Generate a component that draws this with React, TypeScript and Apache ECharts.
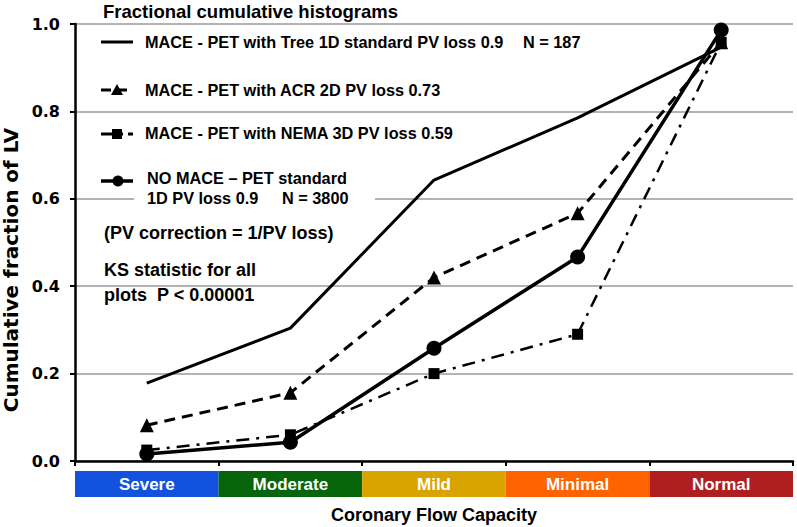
import React, { useEffect, useRef } from "react";
import * as echarts from "echarts";

const categories = ["Severe", "Moderate", "Mild", "Minimal", "Normal"];
const categoryColors = ["#1252dc", "#07650b", "#d9a400", "#ff6300", "#b01f1f"];
const treeSeries = [0.178, 0.304, 0.643, 0.785, 0.947];
const acrSeries = [0.082, 0.156, 0.42, 0.567, 0.958];
const nemaSeries = [0.025, 0.06, 0.2, 0.29, 0.958];
const noMaceSeries = [0.016, 0.043, 0.258, 0.467, 0.986];
const yTicks = [0, 0.2, 0.4, 0.6, 0.8, 1.0];

const FONT = "Liberation Sans, Arial, sans-serif";
const WIDE = "DejaVu Sans, sans-serif";

export default function App() {
  const ref = useRef<HTMLDivElement>(null);
  useEffect(() => {
    if (!ref.current) return;
    const chart = echarts.init(ref.current, null, { renderer: "svg" });
    const txt = (x: number, y: number, s: string, size = 16, extra: any = {}) => ({
      type: "text",
      x,
      y,
      z: 100,
      style: {
        text: s,
        font: `bold ${size}px ${FONT}`,
        fill: "#000",
        textVerticalAlign: "middle",
        ...extra,
      },
    });
    const legLine = (y: number, dash: any, w = 3) => ({
      type: "line",
      z: 100,
      shape: { x1: 101, y1: y, x2: 133, y2: y },
      style: { stroke: "#000", lineWidth: w, lineDash: dash },
    });
    chart.setOption({
      animation: false,
      backgroundColor: "#fff",
      textStyle: { fontFamily: FONT },
      grid: [
        { left: 75, right: 4, top: 24, bottom: 66, containLabel: false, outerBoundsMode: "none" },
        { left: 75, right: 4, top: 471, height: 26, containLabel: false, outerBoundsMode: "none" },
      ],
      xAxis: [
        {
          type: "category",
          gridIndex: 0,
          data: categories,
          boundaryGap: true,
          axisLine: { lineStyle: { color: "#000", width: 2.5 } },
          axisTick: { show: true, length: 5, lineStyle: { color: "#000", width: 2 } },
          axisLabel: { show: false },
          name: "Coronary Flow Capacity",
          nameLocation: "middle",
          nameGap: 45,
          nameTextStyle: { fontWeight: "bold", fontSize: 18, color: "#000", fontFamily: FONT },
        },
        {
          type: "category",
          gridIndex: 1,
          data: categories,
          boundaryGap: true,
          show: false,
        },
      ],
      yAxis: [
        {
          type: "value",
          gridIndex: 0,
          min: 0,
          max: 1,
          interval: 0.2,
          axisLine: { show: true, lineStyle: { color: "#000", width: 2.5 } },
          axisTick: { show: true, length: 5, lineStyle: { color: "#000", width: 2 } },
          axisLabel: {
            color: "#000",
            fontWeight: "bold",
            fontSize: 16,
            fontFamily: WIDE,
            margin: 15,
            formatter: (v: number) => (yTicks.some((t) => Math.abs(t - v) < 1e-6) ? v.toFixed(1) : ""),
          },
          splitLine: { show: true, lineStyle: { color: "#9a9a9a", width: 1.5 } },
        },
        { type: "value", gridIndex: 1, min: 0, max: 1, show: false },
      ],
      series: [
        {
          name: "bar",
          type: "bar",
          xAxisIndex: 1,
          yAxisIndex: 1,
          barWidth: "100%",
          data: categories.map((c, i) => ({ value: 1, itemStyle: { color: categoryColors[i] } })),
          label: {
            show: true,
            position: "inside",
            color: "#fff",
            fontWeight: "bold",
            fontSize: 17,
            fontFamily: FONT,
            formatter: (p: any) => categories[p.dataIndex],
          },
          silent: true,
        },
        {
          name: "MACE - PET with Tree 1D standard PV loss 0.9",
          type: "line",
          data: treeSeries,
          symbol: "none",
          lineStyle: { color: "#000", width: 3 },
          z: 5,
        },
        {
          name: "MACE - PET with ACR 2D PV loss 0.73",
          type: "line",
          data: acrSeries,
          symbol: "triangle",
          symbolSize: 14,
          itemStyle: { color: "#000" },
          lineStyle: { color: "#000", width: 3, type: [11, 7] },
          z: 6,
        },
        {
          name: "MACE - PET with NEMA 3D PV loss 0.59",
          type: "line",
          data: nemaSeries,
          symbol: "rect",
          symbolSize: 11,
          itemStyle: { color: "#000" },
          lineStyle: { color: "#000", width: 2.5, type: [13, 7, 3, 7] },
          z: 7,
        },
        {
          name: "NO MACE - PET standard 1D PV loss 0.9",
          type: "line",
          data: noMaceSeries,
          symbol: "circle",
          symbolSize: 15,
          itemStyle: { color: "#000" },
          lineStyle: { color: "#000", width: 3.5 },
          z: 8,
        },
      ],
      graphic: [
        {
          type: "text",
          x: 11,
          y: 270,
          rotation: Math.PI / 2,
          z: 100,
          style: {
            text: "Cumulative fraction of LV",
            font: `bold 20px ${WIDE}`,
            fill: "#000",
            textAlign: "center",
            textVerticalAlign: "middle",
          },
        },
        txt(103, 11, "Fractional cumulative histograms", 18.5),
        legLine(42, null),
        txt(145, 42, "MACE - PET with Tree 1D standard PV loss 0.9", 16.3),
        txt(523, 42, "N = 187", 16.3),
        legLine(90, [10, 6]),
        {
          type: "polygon",
          z: 101,
          shape: { points: [[117, 84], [111, 95], [123, 95]] },
          style: { fill: "#000" },
        },
        txt(145, 90, "MACE - PET with ACR 2D PV loss 0.73", 16.3),
        legLine(134, [14, 5, 3, 5]),
        { type: "rect", z: 101, shape: { x: 112, y: 129, width: 10, height: 10 }, style: { fill: "#000" } },
        txt(145, 133, "MACE - PET with NEMA 3D PV loss 0.59", 16.3),
        {
          type: "rect",
          z: 99,
          shape: { x: 134, y: 190, width: 241, height: 18 },
          style: { fill: "#fff" },
        },
        legLine(181, null, 3.5),
        { type: "circle", z: 101, shape: { cx: 118, cy: 181, r: 5.5 }, style: { fill: "#000" } },
        txt(147, 178, "NO MACE \u2013 PET standard", 16.3),
        txt(147, 198, "1D PV loss 0.9", 16.3),
        txt(282, 198, "N = 3800", 16.3),
        txt(104, 233, "(PV correction = 1/PV loss)", 18),
        txt(104, 270, "KS statistic for all", 18),
        txt(104, 295, "plots  P < 0.00001", 18),
      ],
    });
    return () => chart.dispose();
  }, []);
  return (
    <div
      ref={ref}
      style={{ position: "fixed", left: 0, top: 0, width: 797, height: 527, background: "#fff" }}
    />
  );
}
